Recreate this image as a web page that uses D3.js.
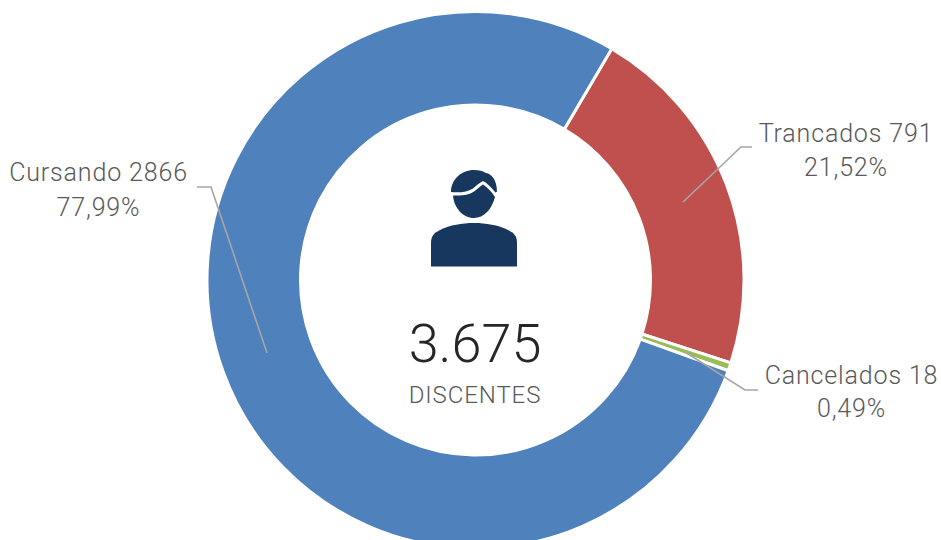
<!DOCTYPE html>
<html><head><meta charset="utf-8">
<style>html,body{margin:0;background:#fff}svg{display:block}text{font-family:"Roboto",sans-serif;fill:#595959;font-weight:300}</style>
<script src="https://cdnjs.cloudflare.com/ajax/libs/d3/7.8.5/d3.min.js"></script></head><body>
<svg id="c" width="941" height="540"></svg>
<script>
const categories=["Trancados","Cancelados","Cursando"];
const values=[791,18,2866];
const percents=["21,52%","0,49%","77,99%"];
const colors=["#C0504D","#9BBB59","#4F81BD"];
const total="3.675", totalLabel="DISCENTES";
const svg=d3.select("#c");
const cx=475.5,cy=280,R=268.5,r=175;
const g=svg.append("g").attr("transform",`translate(${cx},${cy})`);
const startA=30.5*Math.PI/180;
const pie=d3.pie().sort(null).startAngle(startA).endAngle(startA+2*Math.PI).value(d=>d);
const arc=d3.arc().innerRadius(r).outerRadius(R);
g.selectAll("path.s").data(pie(values)).join("path").attr("class","s").attr("d",arc).attr("fill",(d,i)=>colors[i]).attr("stroke","#fff").attr("stroke-width",3);
const leaders=[[[683,202],[741,147],[752,147]],[[685,352],[745,390],[758,390]],[[267,353],[211,187],[197,187]]];
svg.selectAll("path.l").data(leaders).join("path").attr("class","l").attr("d",d3.line()).attr("fill","none").attr("stroke","#A6A6A6").attr("stroke-width",1.6);
const labels=[[846,133,167],[851.5,375,408],[98.5,172,207]];
labels.forEach((p,i)=>{
 svg.append("text").attr("x",p[0]).attr("y",p[1]+9).attr("text-anchor","middle").attr("font-size",25).attr("letter-spacing",0.85).text(categories[i]+" "+values[i]);
 svg.append("text").attr("x",p[0]).attr("y",p[2]+9).attr("text-anchor","middle").attr("font-size",25).attr("letter-spacing",0.85).text(percents[i]);
});
svg.append("text").attr("x",475).attr("y",362).attr("text-anchor","middle").attr("font-size",54).style("fill","#262626").text(total);
svg.append("text").attr("x",475).attr("y",403).attr("text-anchor","middle").attr("font-size",24).attr("letter-spacing",0.9).text(totalLabel);
const ic=svg.append("g").attr("fill","#17375E");
ic.append("path").attr("d","M431 266.5V243C431 236 434 233 440 230C450 225 462 223 474 223C486 223 498 225 508 230C514 233 517 236 517 243V266.5Z");
ic.append("path").attr("d","M453 195.5C462 196 470 195 476 190C479 187.5 481 185.5 483 184.5C487 187 491 191 495 197C492 209 484 218 474 218C463 218 454 208 453 195.5Z");
ic.append("path").attr("d","M451 192C451 180 461 170 474 170C479 170 483 171 486 173C491 174 497 179 497 192C496 191 496 193 495.5 192.5C491 187 487 183 483 181C479 183 476 186 473 188.5C467 192 460 193 451 192Z");
</script></body></html>
